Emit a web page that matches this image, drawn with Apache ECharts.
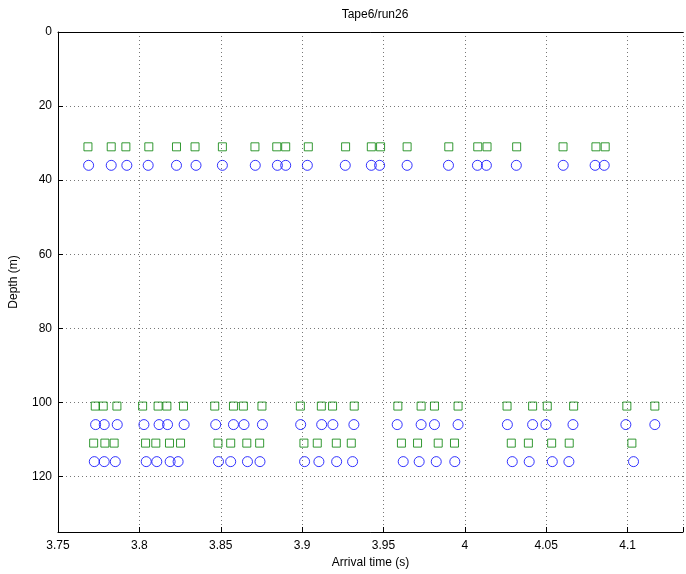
<!DOCTYPE html>
<html><head><meta charset="utf-8">
<script src="https://cdn.jsdelivr.net/npm/echarts@6/dist/echarts.min.js"></script>
<style>html,body{margin:0;padding:0;background:#fff}#c{width:686px;height:574px}</style>
</head><body><div id="c"></div>
<script>
const title = "Tape6/run26";
const xLabel = "Arrival time (s)";
const yLabel = "Depth (m)";
const xTicks = [3.75, 3.8, 3.85, 3.9, 3.95, 4, 4.05, 4.1];
const yTicks = [0, 20, 40, 60, 80, 100, 120];

const depthSq1 = 31, depthCi1 = 36, depthSq2 = 101, depthCi2 = 106, depthSq3 = 111, depthCi3 = 116;

const timesSq1 = [3.7684, 3.7827, 3.7917, 3.8058, 3.8228, 3.8342, 3.8510, 3.8710, 3.8844, 3.8899, 3.9038, 3.9267, 3.9425, 3.9482, 3.9645, 3.9901, 4.0079, 4.0136, 4.0318, 4.0603, 4.0805, 4.0862];
const timesCi1 = [3.7688, 3.7827, 3.7923, 3.8054, 3.8228, 3.8348, 3.8510, 3.8712, 3.8848, 3.8899, 3.9032, 3.9265, 3.9425, 3.9476, 3.9645, 3.9899, 4.0077, 4.0132, 4.0316, 4.0604, 4.0800, 4.0856];
const timesSq2 = [3.7729, 3.7778, 3.7862, 3.8020, 3.8115, 3.8169, 3.8271, 3.8463, 3.8578, 3.8639, 3.8753, 3.8989, 3.9118, 3.9187, 3.9320, 3.9588, 3.9731, 3.9813, 3.9958, 4.0259, 4.0416, 4.0506, 4.0668, 4.0995, 4.1167];
const timesCi2 = [3.7731, 3.7784, 3.7864, 3.8028, 3.8121, 3.8173, 3.8275, 3.8469, 3.8578, 3.8643, 3.8756, 3.8991, 3.9120, 3.9189, 3.9318, 3.9584, 3.9731, 3.9813, 3.9958, 4.0261, 4.0416, 4.0498, 4.0664, 4.0989, 4.1167];
const timesSq3 = [3.7719, 3.7788, 3.7845, 3.8038, 3.8101, 3.8185, 3.8253, 3.8483, 3.8561, 3.8660, 3.8739, 3.9011, 3.9093, 3.9210, 3.9302, 3.9610, 3.9709, 3.9836, 3.9936, 4.0285, 4.0390, 4.0533, 4.0641, 4.1026];
const timesCi3 = [3.7723, 3.7784, 3.7852, 3.8042, 3.8107, 3.8189, 3.8238, 3.8486, 3.8561, 3.8664, 3.8741, 3.9015, 3.9103, 3.9212, 3.9310, 3.9621, 3.9719, 3.9824, 3.9938, 4.0291, 4.0395, 4.0537, 4.0639, 4.1036];

const squares = [].concat(
  timesSq1.map(t => [t, depthSq1]),
  timesSq2.map(t => [t, depthSq2]),
  timesSq3.map(t => [t, depthSq3]));
const circles = [].concat(
  timesCi1.map(t => [t, depthCi1]),
  timesCi2.map(t => [t, depthCi2]),
  timesCi3.map(t => [t, depthCi3]));

function isTick(v, list){ return list.some(t => Math.abs(t - v) < 1e-6); }
const font = 'Liberation Sans, Arial, sans-serif';
const gridLine = {show:true, lineStyle:{color:'#777', type:[1,3], width:1}};

const chart = echarts.init(document.getElementById('c'), null, {renderer:'canvas'});
chart.setOption({
  animation:false,
  title:{text:title, left:370, top:4, textAlign:'center', textStyle:{fontFamily:font, fontSize:12, fontWeight:'normal', color:'#000'}},
  grid:{left:57, top:32, right:-2, bottom:42},
  xAxis:[{
    type:'value', min:3.75, max:4.134, interval:0.05,
    name:xLabel, nameLocation:'middle', nameGap:24,
    nameTextStyle:{fontFamily:font, fontSize:12, color:'#000'},
    axisLine:{show:true, onZero:false, lineStyle:{color:'#000', width:1}},
    axisTick:{show:true, inside:true, length:5, lineStyle:{color:'#000'}},
    axisLabel:{fontFamily:font, fontSize:12, color:'#000', margin:8,
      formatter: v => isTick(v, xTicks) ? String(+v.toFixed(2)) : ''},
    splitLine:gridLine
  },{
    type:'value', position:'top', min:3.75, max:4.134, interval:0.05,
    axisLine:{show:true, lineStyle:{color:'#000', width:1}},
    axisTick:{show:false}, axisLabel:{show:false}, splitLine:{show:false}
  }],
  yAxis:{
    type:'value', inverse:true, min:0, max:135, interval:20,
    name:yLabel, nameLocation:'middle', nameGap:38, nameRotate:90,
    nameTextStyle:{fontFamily:font, fontSize:12, color:'#000'},
    axisLine:{show:true, lineStyle:{color:'#000', width:1}},
    axisTick:{show:true, inside:true, length:5, lineStyle:{color:'#000'}},
    axisLabel:{fontFamily:font, fontSize:12, color:'#000', margin:6,
      formatter: v => isTick(v, yTicks) ? String(v) : ''},
    splitLine:gridLine
  },
  series:[
    {type:'scatter', xAxisIndex:0, data:squares, symbol:'rect', symbolSize:8,
      itemStyle:{color:'rgba(0,0,0,0)', borderColor:'#008000', borderWidth:1}},
    {type:'scatter', xAxisIndex:0, data:circles, symbol:'circle', symbolSize:10,
      itemStyle:{color:'rgba(0,0,0,0)', borderColor:'#0000ff', borderWidth:1}}
  ]
});
</script></body></html>
